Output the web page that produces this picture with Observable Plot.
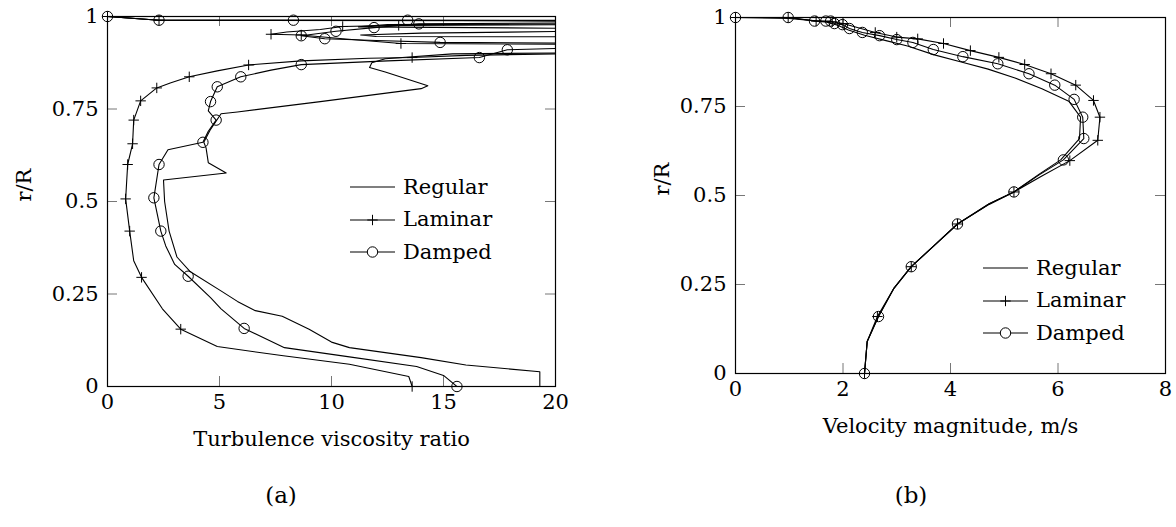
<!DOCTYPE html>
<html>
<head>
<meta charset="utf-8">
<script src="https://cdn.jsdelivr.net/npm/d3@7"></script>
<script src="https://cdn.jsdelivr.net/npm/@observablehq/plot@0.6"></script>
<style>
  html, body { margin: 0; padding: 0; background: #fff; }
  body { position: relative; width: 1176px; height: 527px; overflow: hidden; color: #000; }
  body, body * { font-family: "DejaVu Serif", "Liberation Serif", serif !important; }
  .panel { position: absolute; top: 0; }
  .panel svg { overflow: visible; }
  .caption { position: absolute; font-size: 23px; transform: translate(-50%, -50%); white-space: nowrap; }
  .legend { position: absolute; font-size: 21px; }
  .legend .row { display: flex; align-items: center; height: 32.5px; }
  .legend .row span { margin-left: 7px; line-height: 1; }
</style>
</head>
<body>
<div id="panelA" class="panel" style="left:0px"></div>
<div id="panelB" class="panel" style="left:620px"></div>
<div id="legendA" class="legend" style="left:350px; top:171px"></div>
<div id="legendB" class="legend" style="left:983px; top:252px"></div>
<div class="caption" style="left:281px; top:495px">(a)</div>
<div class="caption" style="left:911px; top:495px">(b)</div>

<script>
// Series names and their marker symbols
const seriesNames = ["Regular", "Laminar", "Damped"];

// (a) Turbulence viscosity ratio vs r/R — [value, r/R, marked]
const viscRegular = [
  [19.3, 0.0, 0], [19.3, 0.04, 0], [16.0, 0.058, 0], [14.0, 0.078, 0], [10.8, 0.105, 0],
  [10.0, 0.12, 0], [9.0, 0.155, 0], [7.8, 0.19, 0], [6.6, 0.205, 0], [5.8, 0.23, 0],
  [5.1, 0.257, 0], [3.7, 0.31, 0], [3.1, 0.35, 0], [2.75, 0.42, 0], [2.55, 0.50, 0],
  [2.5, 0.558, 0], [5.3, 0.577, 0], [4.5, 0.605, 0], [4.4, 0.645, 0], [4.3, 0.66, 0],
  [4.6, 0.695, 0], [5.07, 0.737, 0], [5.8, 0.742, 0], [9.5, 0.77, 0], [14.0, 0.805, 0],
  [14.3, 0.813, 0], [12.4, 0.85, 0], [11.7, 0.862, 0], [11.8, 0.875, 0], [12.4, 0.886, 0],
  [15.4, 0.899, 0], [21.0, 0.902, 0], [21.0, 0.945, 0], [12.0, 0.946, 0], [11.3, 0.95, 0],
  [14.0, 0.955, 0], [21.0, 0.96, 0], [21.0, 0.968, 0], [11.2, 0.972, 0], [12.5, 0.978, 0],
  [21.0, 0.98, 0], [21.0, 0.99, 0], [2.3, 0.99, 0], [0.0, 1.0, 0]
];
const viscLaminar = [
  [13.6, 0.0, 1], [13.45, 0.027, 0], [10.8, 0.06, 0], [7.85, 0.083, 0], [4.9, 0.108, 0],
  [3.27, 0.155, 1], [2.45, 0.21, 0], [1.52, 0.295, 1], [1.17, 0.34, 0], [0.99, 0.42, 1],
  [0.81, 0.507, 1], [0.9, 0.60, 1], [1.12, 0.656, 1], [1.17, 0.72, 1], [1.48, 0.772, 1],
  [2.2, 0.807, 1], [2.8, 0.82, 0], [3.65, 0.837, 1], [4.9, 0.853, 0], [6.3, 0.869, 1],
  [8.65, 0.88, 0], [11.65, 0.887, 0], [13.6, 0.889, 1], [16.0, 0.895, 0], [21.0, 0.90, 0],
  [21.0, 0.925, 0], [13.1, 0.927, 1], [10.5, 0.94, 0], [8.65, 0.95, 1], [7.3, 0.952, 1],
  [8.0, 0.958, 0], [9.5, 0.965, 0], [10.5, 0.973, 1], [13.0, 0.976, 1], [21.0, 0.978, 0],
  [21.0, 0.988, 0], [2.3, 0.99, 1], [0.0, 1.0, 1]
];
const viscDamped = [
  [15.6, 0.0, 1], [15.0, 0.03, 0], [13.8, 0.054, 0], [10.8, 0.08, 0], [7.9, 0.105, 0],
  [6.1, 0.157, 1], [5.07, 0.21, 0], [4.6, 0.24, 0], [3.6, 0.298, 1], [3.0, 0.33, 0],
  [2.6, 0.38, 0], [2.38, 0.42, 1], [2.07, 0.51, 1], [2.3, 0.60, 1], [2.7, 0.64, 0],
  [4.26, 0.66, 1], [4.5, 0.69, 0], [4.85, 0.72, 1], [4.5, 0.745, 0], [4.6, 0.77, 1],
  [4.9, 0.81, 1], [5.95, 0.837, 1], [7.3, 0.855, 0], [8.65, 0.87, 1], [12.5, 0.88, 0],
  [16.6, 0.889, 1], [17.85, 0.91, 1], [21.0, 0.915, 0], [21.0, 0.928, 0], [14.85, 0.93, 1],
  [12.0, 0.935, 0], [9.7, 0.94, 1], [8.65, 0.948, 1], [10.2, 0.96, 1], [11.9, 0.97, 1],
  [13.9, 0.98, 1], [21.0, 0.983, 0], [21.0, 0.988, 0], [13.4, 0.99, 1], [8.3, 0.99, 1],
  [2.3, 0.99, 1], [0.0, 1.0, 1]
];

// (b) Velocity magnitude (m/s) vs r/R — [value, r/R, marked]
const velRegular = [
  [2.4, 0.0, 0], [2.45, 0.09, 0], [2.66, 0.16, 0], [2.95, 0.24, 0], [3.27, 0.30, 0],
  [3.7, 0.36, 0], [4.13, 0.42, 0], [4.72, 0.477, 0], [5.18, 0.51, 0], [5.65, 0.56, 0],
  [6.05, 0.60, 0], [6.4, 0.66, 0], [6.42, 0.72, 0], [6.2, 0.765, 0], [5.7, 0.80, 0],
  [5.2, 0.83, 0], [4.7, 0.855, 0], [4.2, 0.875, 0], [3.7, 0.895, 0], [3.2, 0.92, 0],
  [2.8, 0.935, 0], [2.4, 0.95, 0], [2.1, 0.965, 0], [1.9, 0.978, 0], [1.7, 0.987, 0],
  [1.4, 0.992, 0], [1.0, 0.997, 0], [0.0, 1.0, 0]
];
const velLaminar = [
  [2.4, 0.0, 1], [2.45, 0.09, 0], [2.64, 0.16, 1], [2.95, 0.24, 0], [3.27, 0.30, 1],
  [3.7, 0.36, 0], [4.13, 0.42, 1], [4.72, 0.475, 0], [5.18, 0.51, 1], [5.7, 0.555, 0],
  [6.22, 0.598, 1], [6.74, 0.655, 1], [6.78, 0.72, 1], [6.66, 0.767, 1], [6.33, 0.81, 1],
  [5.87, 0.842, 1], [5.38, 0.868, 1], [4.9, 0.888, 1], [4.37, 0.907, 1], [3.87, 0.927, 1],
  [3.39, 0.94, 1], [3.0, 0.945, 1], [2.6, 0.958, 1], [2.0, 0.983, 1], [1.8, 0.988, 1],
  [1.5, 0.99, 1], [0.98, 1.0, 1], [0.0, 1.0, 1]
];
const velDamped = [
  [2.4, 0.0, 1], [2.45, 0.09, 0], [2.66, 0.16, 1], [2.95, 0.24, 0], [3.27, 0.30, 1],
  [3.7, 0.36, 0], [4.13, 0.42, 1], [4.72, 0.477, 0], [5.18, 0.51, 1], [5.65, 0.558, 0],
  [6.1, 0.60, 1], [6.48, 0.66, 1], [6.46, 0.72, 1], [6.3, 0.77, 1], [5.94, 0.81, 1],
  [5.46, 0.842, 1], [4.88, 0.87, 1], [4.23, 0.89, 1], [3.68, 0.91, 1], [3.3, 0.93, 1],
  [3.0, 0.938, 1], [2.68, 0.949, 1], [2.36, 0.958, 1], [2.12, 0.969, 1], [1.99, 0.98, 1],
  [1.84, 0.983, 1], [1.77, 0.99, 1], [1.68, 0.99, 1], [1.47, 0.99, 1], [0.98, 1.0, 1],
  [0.0, 1.0, 1]
];

// Axis ticks
const viscTicks = [0, 5, 10, 15, 20];
const velTicks = [0, 2, 4, 6, 8];
const rTicks = [0, 0.25, 0.5, 0.75, 1];

// A thin "+" marker (stroke only)
const plusSymbol = {
  draw(ctx, size) {
    const r = Math.sqrt(size / Math.PI);
    ctx.moveTo(-r, 0); ctx.lineTo(r, 0);
    ctx.moveTo(0, -r); ctx.lineTo(0, r);
  }
};
const markerOf = { Regular: null, Laminar: plusSymbol, Damped: "circle" };
const serif = '"DejaVu Serif", "Liberation Serif", serif';
const fs = 21;

function panel({series, xDomain, xTicks, width, height, ml, mr, mt, mb, xLabel, yLabel, xLabelDy, yLabelDx}) {
  const fw = width - ml - mr, fh = height - mt - mb, tick = 10;
  const marks = [
    // inward ticks on all four sides
    Plot.tickX(xTicks, {x: d => d, insetTop: fh - tick, stroke: "#777"}),
    Plot.tickX(xTicks, {x: d => d, insetBottom: fh - tick, stroke: "#777"}),
    Plot.tickY(rTicks, {y: d => d, insetRight: fw - tick, stroke: "#777"}),
    Plot.tickY(rTicks, {y: d => d, insetLeft: fw - tick, stroke: "#777"}),
    Plot.axisX(xTicks, {tickSize: 0, tickPadding: 8, tickFormat: d => String(d), label: null, fontSize: fs, fontFamily: serif}),
    Plot.axisY(rTicks, {tickSize: 0, tickPadding: 9, tickFormat: d => String(d), label: null, fontSize: fs, fontFamily: serif}),
    Plot.text([xLabel], {frameAnchor: "bottom", dy: xLabelDy, fontSize: fs, fontFamily: serif}),
    Plot.text([yLabel], {frameAnchor: "left", dx: yLabelDx, rotate: -90, fontSize: fs, fontFamily: serif})
  ];
  for (const [name, data] of series) {
    marks.push(Plot.line(data, {x: d => d[0], y: d => d[1], stroke: "black", strokeWidth: 1.1, clip: true}));
    const sym = markerOf[name];
    if (sym) {
      marks.push(Plot.dot(data.filter(d => d[2]), {
        x: d => d[0], y: d => d[1], symbol: sym, r: 5.2,
        stroke: "black", strokeWidth: 1, fill: "none"
      }));
    }
  }
  marks.push(Plot.frame({stroke: "black", strokeWidth: 1.2}));
  return Plot.plot({
    width, height,
    marginLeft: ml, marginRight: mr, marginTop: mt, marginBottom: mb,
    x: {domain: xDomain},
    y: {domain: [0, 1]},
    style: {fontFamily: serif, fontSize: fs + "px", background: "transparent", color: "black"},
    marks
  });
}

document.getElementById("panelA").append(panel({
  series: [["Regular", viscRegular], ["Laminar", viscLaminar], ["Damped", viscDamped]],
  xDomain: [0, 20], xTicks: viscTicks,
  width: 600, height: 470, ml: 107, mr: 45, mt: 16, mb: 84,
  xLabel: "Turbulence viscosity ratio", yLabel: "r/R", xLabelDy: 59, yLabelDx: -83
}));
document.getElementById("panelB").append(panel({
  series: [["Regular", velRegular], ["Laminar", velLaminar], ["Damped", velDamped]],
  xDomain: [0, 8], xTicks: velTicks,
  width: 556, height: 460, ml: 115, mr: 11, mt: 17, mb: 87,
  xLabel: "Velocity magnitude, m/s", yLabel: "r/R", xLabelDy: 59, yLabelDx: -73
}));

// Legends: a line sample with the series marker, then its name
function legend(el) {
  for (const name of seriesNames) {
    const row = d3.select(el).append("div").attr("class", "row");
    const svg = row.append("svg").attr("width", 46).attr("height", 16);
    svg.append("line").attr("x1", 0).attr("x2", 45).attr("y1", 8).attr("y2", 8)
      .attr("stroke", "black").attr("stroke-width", 1.1);
    if (name === "Laminar") {
      svg.append("path").attr("d", "M17.3,8H27.7M22.5,2.8V13.2").attr("stroke", "black").attr("fill", "none");
    } else if (name === "Damped") {
      svg.append("circle").attr("cx", 22.5).attr("cy", 8).attr("r", 5.2).attr("stroke", "black").attr("fill", "white");
    }
    row.append("span").text(name);
  }
}
legend(document.getElementById("legendA"));
legend(document.getElementById("legendB"));
</script>
</body>
</html>
